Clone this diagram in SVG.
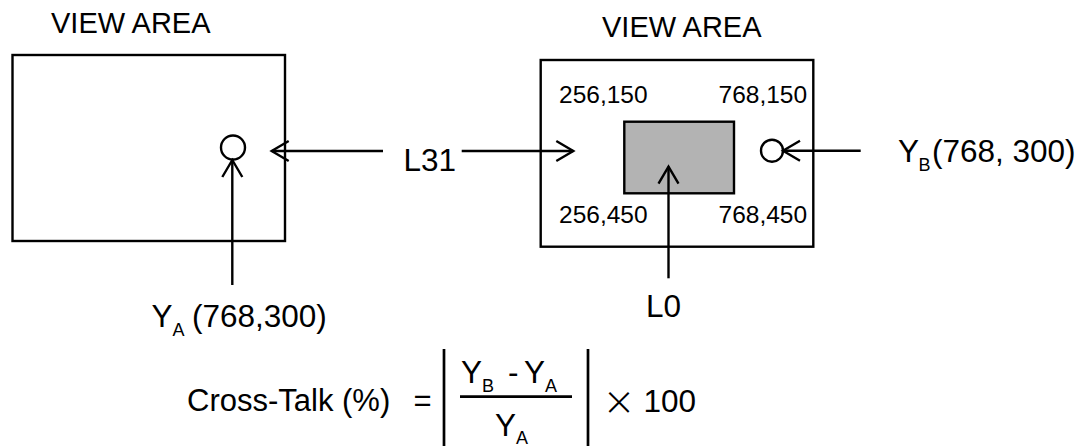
<svg xmlns="http://www.w3.org/2000/svg" width="1085" height="446" viewBox="0 0 1085 446">
<style>
  text { font-family: "Liberation Sans", Arial, sans-serif; fill: #000; }
  .big { font-size: 31.5px; }
  .hd { font-size: 29px; }
  .sm { font-size: 24.5px; }
  .sub { font-size: 18px; }
  .frame { fill: none; stroke: #000; stroke-width: 2.4; }
  .conn line { stroke: #000; stroke-width: 2.4; fill: none; }
  .arr { marker-end: url(#vhead); }
</style>
<defs>
  <marker id="vhead" markerUnits="userSpaceOnUse" markerWidth="40" markerHeight="40" refX="0" refY="0" orient="auto" overflow="visible">
    <path d="M -17 -10 L 0 0 L -17 10" fill="none" stroke="#000" stroke-width="2.4"/>
  </marker>
</defs>
<rect width="1085" height="446" fill="#fff"/>

<g id="view-area-left">
  <text class="hd" x="51" y="32.5">VIEW AREA</text>
  <rect class="frame" x="12.5" y="55" width="272.5" height="186"/>
  <circle class="frame" cx="233" cy="147.5" r="12"/>
</g>

<g id="view-area-right">
  <text class="hd" x="602" y="36.7">VIEW AREA</text>
  <rect class="frame" x="540.7" y="60" width="272.6" height="186.7"/>
  <rect x="624.3" y="121.7" width="109.7" height="71.6" fill="#b3b3b3" stroke="#000" stroke-width="2.4"/>
  <text class="sm" x="559" y="103.3">256,150</text>
  <text class="sm" x="718.5" y="103.3">768,150</text>
  <text class="sm" x="559" y="223.3">256,450</text>
  <text class="sm" x="718.5" y="223.3">768,450</text>
  <circle class="frame" cx="772" cy="150.7" r="11"/>
</g>

<g id="label-L31">
  <text class="big" x="403.5" y="171">L31</text>
</g>
<g id="label-L0">
  <text class="big" x="646" y="316.7">L0</text>
</g>
<g id="label-YA">
  <text class="big" x="151.5" y="326.7">Y</text>
  <text class="sub" x="172.5" y="335.5">A</text>
  <text class="big" x="192" y="326.7">(768,300)</text>
</g>
<g id="label-YB">
  <text class="big" x="898" y="161.7">Y</text>
  <text class="sub" x="918.5" y="171">B</text>
  <text class="big" x="932" y="161.7">(768, 300)</text>
</g>

<g id="connectors" class="conn">
  <line class="arr" x1="383" y1="151" x2="271.7" y2="151"/>
  <line class="arr" x1="461.7" y1="151" x2="573.3" y2="151"/>
  <line class="arr" x1="232.3" y1="285" x2="232.3" y2="160"/>
  <line class="arr" x1="668.5" y1="278.3" x2="668.5" y2="166.7"/>
  <line class="arr" x1="860.7" y1="150.7" x2="783" y2="150.7"/>
</g>

<g id="formula">
  <text class="big" x="187" y="411" style="font-size:31px">Cross-Talk (%)</text>
  <text class="big" x="413.5" y="411" style="font-size:31px">=</text>
  <line x1="444" y1="349" x2="444" y2="446" stroke="#000" stroke-width="2.7"/>
  <line x1="588" y1="349" x2="588" y2="446" stroke="#000" stroke-width="2.7"/>
  <text class="big" x="461" y="383">Y</text>
  <text class="sub" x="482" y="391.5">B</text>
  <text class="big" x="508" y="383">-</text>
  <text class="big" x="524" y="383">Y</text>
  <text class="sub" x="545" y="391.5">A</text>
  <line x1="460" y1="396.7" x2="572" y2="396.7" stroke="#000" stroke-width="2.7"/>
  <text class="big" x="495" y="435.5">Y</text>
  <text class="sub" x="516" y="443.5">A</text>
  <text x="619" y="416" text-anchor="middle" style="font-family: Inter, 'Liberation Sans', sans-serif; font-weight: 200; font-size: 48px;">×</text>
  <text class="big" x="643.5" y="411.5">100</text>
</g>
</svg>
